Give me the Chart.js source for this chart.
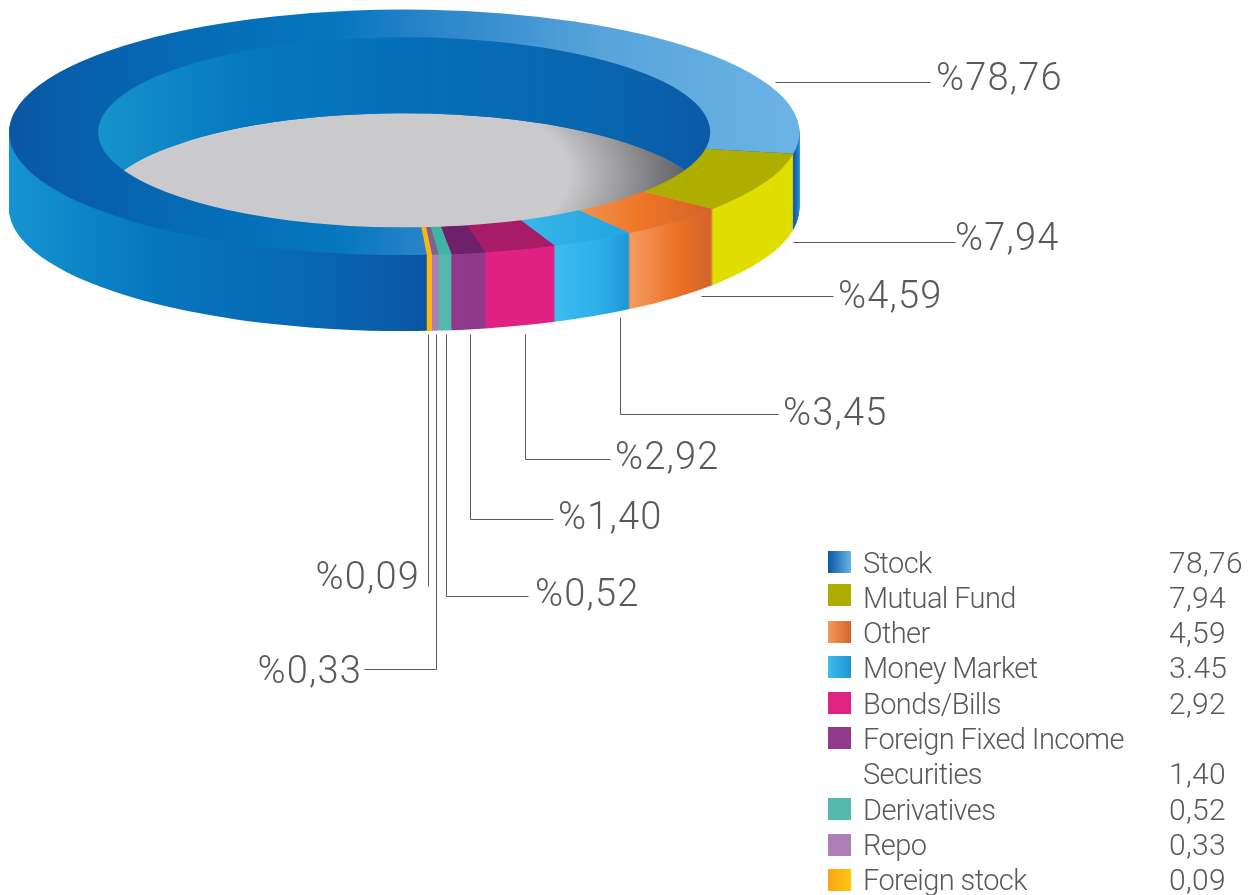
<!DOCTYPE html>
<html><head><meta charset="utf-8">
<style>html,body{margin:0;padding:0;background:#fff}#w{position:relative;width:1253px;height:895px}</style>
<script src="https://cdn.jsdelivr.net/npm/chart.js@4/dist/chart.umd.js"></script>
</head><body><div id="w"><canvas id="c" width="1253" height="895"></canvas></div>
<script>
const categories=['Stock','Mutual Fund','Other','Money Market','Bonds/Bills','Foreign Fixed Income Securities','Derivatives','Repo','Foreign stock'];
const values=[78.76,7.94,4.59,3.45,2.92,1.40,0.52,0.33,0.09];
const legendValues=['78,76','7,94','4,59','3.45','2,92','1,40','0,52','0,33','0,09'];
const calloutLabels=['%78,76','%7,94','%4,59','%3,45','%2,92','%1,40','%0,52','%0,33','%0,09'];

// Styles: [stop position in px across the page, colour]
const topColors=[
 [[9,'#0a57a4'],[200,'#056cb7'],[340,'#0577bf'],[410,'#2481c7'],[600,'#57a3da'],[790,'#6bb3e5']],
 '#aeae00',
 [[585,'#f2904e'],[640,'#ee7627'],[712,'#d4632a']],
 [[520,'#38b7ea'],[600,'#26a8e1'],[660,'#22a5df']],
 '#a81b66','#6e2068','#3fb4a6','#80628f','#fdb515'];
const wallColors=[
 [[9,'#1594cf'],[150,'#0577bf'],[300,'#0868b3'],[424,'#0b56a4'],[794,'#0b5aa8'],[800,'#2f8fd6']],
 '#e0dd00',
 [[631,'#f59a5f'],[678,'#ea7025'],[711,'#d2642c']],
 [[552,'#3dbcee'],[600,'#2cb0ea'],[631,'#1e94d4']],
 '#e02283','#913a8c','#54b9ab','#ac80b7','#fdb813'];
const innerWall=[[98,'#1593cb'],[250,'#0578bf'],[400,'#056fb9'],[600,'#0965af'],[710,'#0b5aa6']];
const swatches=[['#0a57a4','#6bb3e5'],'#aeae00',['#f59a5f','#d4632a'],['#3dbcee','#1e94d4'],'#e02283','#913a8c','#54b9ab','#ac80b7',['#f9a51a','#ffc70f']];

// Layout of the flattened ring
const squash=0.3106, depth=76, centerY=132.3, rotationDeg=176.5;
const extraWidth=[0,0,0,0,0,0,0,0,3];

// Callouts: leader polyline, label anchor, alignment
const callouts=[
 {pts:[[775,82],[930,82]],x:936,y:80,a:'left'},
 {pts:[[793,242],[955,242]],x:955,y:240,a:'left'},
 {pts:[[701,296],[833,296]],x:838,y:298,a:'left'},
 {pts:[[620,317],[620,414],[778,414]],x:783,y:415,a:'left'},
 {pts:[[525,334],[525,459],[610,459]],x:615,y:459,a:'left'},
 {pts:[[470,334],[470,519],[553,519]],x:558,y:519,a:'left'},
 {pts:[[446.7,334],[446.7,596],[528,596]],x:535,y:596,a:'left'},
 {pts:[[436.2,334],[436.2,669],[364,669]],x:362,y:673,a:'right'},
 {pts:[[428,334],[428,586]],x:420,y:579,a:'right'}];
const legendRowY=[566,601,636,671,707,742,813,848,883];
const valueRowY=[566,601,636,671,707,777,813,848,883];
const swatchTopY=[551,584,621,656,692,727,798,834,869];
const secondLineY=777, legendSwatchX=828, legendTextX=863, legendValueX=1169;
const labelFont='300 38px Roboto', legendFont='300 29px Roboto', valueFont='300 30px Roboto', textColor='#58595b';

function fillOf(ctx,spec){
  if(typeof spec==='string')return spec;
  const g=ctx.createLinearGradient(spec[0][0],0,spec[spec.length-1][0],0),
        a=spec[0][0],b=spec[spec.length-1][0];
  spec.forEach(s=>g.addColorStop((s[0]-a)/(b-a),s[1]));
  return g;
}
function paintArc(ctx,arc,fill,bw){
  const saved=arc.options;
  arc.options={offset:0,spacing:0,borderWidth:bw||0,borderAlign:'center',borderColor:fill,backgroundColor:fill,circular:true,borderRadius:0,borderJoinStyle:'round'};
  arc.draw(ctx);
  arc.options=saved;
}
const ring3d={
  id:'ring3d',
  beforeDatasetsDraw(chart){
    const ctx=chart.ctx, arcs=chart.getDatasetMeta(0).data, a0=arcs[0];
    const cx=a0.x, cy=a0.y, ri=a0.innerRadius, ro=a0.outerRadius;
    ctx.save();
    // flat floor of the hole, shaded toward the right only
    ctx.save();
    ctx.beginPath();
    ctx.ellipse(cx,centerY+depth,ri,ri*squash,0,0,Math.PI*2);
    ctx.fillStyle='#cacacc';ctx.fill();
    ctx.clip();
    ctx.beginPath();ctx.rect(cx,0,ri+5,400);
    ctx.translate(cx,175);ctx.scale(1,0.5);
    const fg=ctx.createRadialGradient(0,0,0,0,0,300);
    fg.addColorStop(0,'#cacacc');fg.addColorStop(0.55,'#cacacc');fg.addColorStop(0.97,'#58585c');fg.addColorStop(1,'#58585c');
    ctx.fillStyle=fg;ctx.fill();
    ctx.restore();
    // squash the ring
    ctx.translate(0,centerY-squash*cy);
    ctx.scale(1,squash);
    const walls=wallColors.map(w=>fillOf(ctx,w));
    const unit=1/squash;
    for(let d=depth;d>=1;d--){
      ctx.save();ctx.translate(0,d*unit);
      arcs.forEach((arc,i)=>paintArc(ctx,arc,walls[i],extraWidth[i]));
      ctx.restore();
    }
    // inner wall seen through the hole
    ctx.save();
    ctx.beginPath();ctx.arc(cx,cy,ri,0,Math.PI*2);ctx.clip();
    const inner=fillOf(ctx,innerWall);
    for(let d=depth;d>=1;d--){
      ctx.save();ctx.translate(0,d*unit);
      paintArc(ctx,arcs[0],inner,0);
      ctx.restore();
    }
    ctx.restore();
  },
  afterDatasetsDraw(chart){
    const ctx=chart.ctx, arcs=chart.getDatasetMeta(0).data;
    arcs.forEach((arc,i)=>{ if(extraWidth[i]) paintArc(ctx,arc,fillOf(ctx,topColors[i]),extraWidth[i]); });
    ctx.restore();
    // callouts
    ctx.save();
    ctx.strokeStyle='#58595b';ctx.lineWidth=1;
    callouts.forEach(c=>{
      ctx.beginPath();
      c.pts.forEach((p,i)=>{const x=Math.floor(p[0])+.5,y=Math.floor(p[1])+.5;i?ctx.lineTo(x,y):ctx.moveTo(x,y);});
      ctx.stroke();
    });
    ctx.fillStyle=textColor;ctx.textBaseline='alphabetic';ctx.font=labelFont;ctx.letterSpacing='1.2px';
    callouts.forEach((c,i)=>{ctx.textAlign=c.a;ctx.fillText(calloutLabels[i],c.x,c.y+10);});
    // legend
    ctx.textAlign='left';
    categories.forEach((name,i)=>{
      const y=legendRowY[i];
      const s=swatches[i];
      if(typeof s==='string')ctx.fillStyle=s;
      else{const g=ctx.createLinearGradient(legendSwatchX,0,legendSwatchX+23,0);g.addColorStop(0,s[0]);g.addColorStop(1,s[1]);ctx.fillStyle=g;}
      ctx.fillRect(legendSwatchX,swatchTopY[i],23,22);
      ctx.fillStyle=textColor;
      ctx.font=legendFont;ctx.letterSpacing='-0.6px';
      if(ctx.measureText(name).width>300){
        const w=name.split(' '),last=w.pop();
        ctx.fillText(w.join(' '),legendTextX,y+7);
        ctx.fillText(last,legendTextX,secondLineY+7);
      }else ctx.fillText(name,legendTextX,y+7);
      ctx.font=valueFont;ctx.letterSpacing='0.3px';
      ctx.fillText(legendValues[i],legendValueX,valueRowY[i]+7);
    });
    ctx.restore();
  }
};
new Chart(document.getElementById('c'),{
  type:'doughnut',
  data:{labels:categories,datasets:[{data:values,borderWidth:0,spacing:0,clip:false,
    backgroundColor:c=>fillOf(c.chart.ctx,topColors[c.dataIndex])}]},
  options:{responsive:false,animation:false,cutout:'77.43%',rotation:rotationDeg,
    layout:{padding:{left:9,right:453.6,top:50,bottom:54.6}},
    plugins:{legend:{display:false},tooltip:{enabled:false}}},
  plugins:[ring3d]
});
</script></body></html>
